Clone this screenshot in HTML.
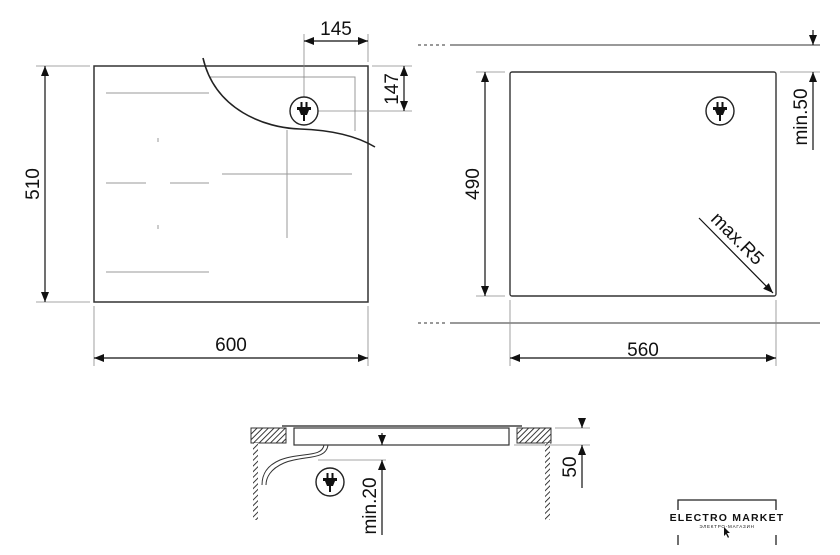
<!DOCTYPE html>
<html><head><meta charset="utf-8"><style>
html,body{margin:0;padding:0;background:#fff;}
svg{display:block;}
text{font-family:"Liberation Sans",sans-serif;fill:#111;}
</style></head><body>
<svg width="840" height="555" viewBox="0 0 840 555" xmlns="http://www.w3.org/2000/svg">
<defs>
<marker id="a" viewBox="0 0 10 10" refX="10" refY="5" markerWidth="10" markerHeight="10" orient="auto-start-reverse" markerUnits="userSpaceOnUse">
<path d="M0,1 L10,5 L0,9 Z" fill="#111"/></marker>
<pattern id="h" width="4" height="4" patternUnits="userSpaceOnUse" patternTransform="rotate(45)">
<rect width="4" height="4" fill="#fff"/><line x1="0" y1="0" x2="0" y2="4" stroke="#222" stroke-width="1.8"/></pattern>
<g id="plug">
<circle cx="0" cy="0" r="14" fill="#fff" stroke="#222" stroke-width="1.4"/>
<rect x="-3.5" y="-9" width="2" height="5" fill="#111"/><rect x="1.5" y="-9" width="2" height="5" fill="#111"/>
<path d="M-7,-4 H7 V-1 H5 L3,4 H-3 L-5,-1 H-7 Z" fill="#111"/>
<rect x="-1" y="4" width="2" height="6" fill="#111"/>
</g>
</defs>

<!-- LEFT TOP VIEW -->
<rect x="94" y="66" width="274" height="236" fill="none" stroke="#333" stroke-width="1.5"/>
<g stroke="#999" stroke-width="1" fill="none">
<polyline points="210,77 355,77 355,131"/>
<line x1="106" y1="93" x2="209" y2="93"/>
<line x1="106" y1="183" x2="146" y2="183"/><line x1="170" y1="183" x2="209" y2="183"/>
<line x1="106" y1="272" x2="209" y2="272"/>
<line x1="222" y1="174" x2="352" y2="174"/>
<line x1="287" y1="130" x2="287" y2="238"/>
<line x1="158" y1="138" x2="158" y2="142"/><line x1="158" y1="225" x2="158" y2="229"/>
</g>
<path d="M203,58 C215,110 265,128 300,129 C330,130 355,135 375,147" fill="none" stroke="#222" stroke-width="1.6"/>
<g stroke="#888" stroke-width="0.8">
<line x1="304" y1="34" x2="304" y2="97"/><line x1="368" y1="34" x2="368" y2="62"/>
<line x1="372" y1="66" x2="412" y2="66"/><line x1="318" y1="111" x2="412" y2="111"/>
<line x1="36" y1="66" x2="90" y2="66"/><line x1="36" y1="302" x2="90" y2="302"/>
<line x1="94" y1="306" x2="94" y2="366"/><line x1="368" y1="306" x2="368" y2="366"/>
</g>
<use href="#plug" x="304" y="111"/>
<g stroke="#111" stroke-width="1.2" fill="none">
<line x1="304" y1="41" x2="368" y2="41" marker-start="url(#a)" marker-end="url(#a)"/>
<line x1="404" y1="66" x2="404" y2="111" marker-start="url(#a)" marker-end="url(#a)"/>
<line x1="45" y1="66" x2="45" y2="302" marker-start="url(#a)" marker-end="url(#a)"/>
<line x1="94" y1="358" x2="368" y2="358" marker-start="url(#a)" marker-end="url(#a)"/>
</g>
<text x="336" y="35" font-size="19" text-anchor="middle">145</text>
<text transform="translate(398,89) rotate(-90)" font-size="19" text-anchor="middle">147</text>
<text transform="translate(39,184) rotate(-90)" font-size="19" text-anchor="middle">510</text>
<text x="231" y="351" font-size="19" text-anchor="middle">600</text>

<!-- RIGHT CUTOUT -->
<rect x="510" y="72" width="266" height="224" rx="2" fill="none" stroke="#333" stroke-width="1.4"/>
<g stroke="#333" stroke-width="1.1">
<line x1="418" y1="45" x2="448" y2="45" stroke-dasharray="3,3"/>
<line x1="450" y1="45" x2="820" y2="45"/>
<line x1="418" y1="323" x2="448" y2="323" stroke-dasharray="3,3"/>
<line x1="450" y1="323" x2="820" y2="323"/>
</g>
<g stroke="#888" stroke-width="0.8">
<line x1="476" y1="72" x2="505" y2="72"/><line x1="476" y1="296" x2="505" y2="296"/>
<line x1="780" y1="72" x2="820" y2="72"/>
<line x1="510" y1="300" x2="510" y2="366"/><line x1="776" y1="300" x2="776" y2="366"/>
</g>
<use href="#plug" x="720" y="111"/>
<g stroke="#111" stroke-width="1.2" fill="none">
<line x1="485" y1="72" x2="485" y2="296" marker-start="url(#a)" marker-end="url(#a)"/>
<line x1="510" y1="358" x2="776" y2="358" marker-start="url(#a)" marker-end="url(#a)"/>
<line x1="813" y1="30" x2="813" y2="45" marker-end="url(#a)"/>
<line x1="813" y1="150" x2="813" y2="72" marker-end="url(#a)"/>
<line x1="699" y1="218" x2="773" y2="293" marker-end="url(#a)"/>
</g>
<text transform="translate(479,184) rotate(-90)" font-size="19" text-anchor="middle">490</text>
<text x="643" y="356" font-size="19" text-anchor="middle">560</text>
<text transform="translate(807,117) rotate(-90)" font-size="19" text-anchor="middle">min.50</text>
<text transform="translate(733,243) rotate(45)" font-size="19" text-anchor="middle">max.R5</text>

<!-- BOTTOM SECTION -->
<rect x="251" y="428" width="35" height="15" fill="url(#h)" stroke="#333" stroke-width="1"/>
<rect x="517" y="428" width="34" height="15" fill="url(#h)" stroke="#333" stroke-width="1"/>
<rect x="253" y="443" width="5" height="77" fill="url(#h)"/>
<rect x="545" y="443" width="5" height="77" fill="url(#h)"/>
<line x1="282" y1="426" x2="522" y2="426" stroke="#444" stroke-width="1.4"/>
<rect x="294" y="428" width="215" height="17" fill="#fff" stroke="#333" stroke-width="1.2"/>
<path d="M324,445 C322,458 300,452 280,460 C266,466 262,475 262,485" fill="none" stroke="#333" stroke-width="1"/>
<path d="M328,445 C326,461 303,455 284,463 C270,469 266,478 266,485" fill="none" stroke="#333" stroke-width="1"/>
<g stroke="#888" stroke-width="0.8">
<line x1="318" y1="460" x2="386" y2="460"/>
<line x1="555" y1="428" x2="590" y2="428"/><line x1="514" y1="445" x2="590" y2="445"/>
</g>
<use href="#plug" x="330" y="482"/>
<g stroke="#111" stroke-width="1.2" fill="none">
<line x1="382" y1="433" x2="382" y2="445" marker-end="url(#a)"/>
<line x1="382" y1="535" x2="382" y2="460" marker-end="url(#a)"/>
<line x1="582" y1="418" x2="582" y2="428" marker-end="url(#a)"/>
<line x1="582" y1="488" x2="582" y2="445" marker-end="url(#a)"/>
</g>
<text transform="translate(376,506) rotate(-90)" font-size="19" text-anchor="middle">min.20</text>
<text transform="translate(576,467) rotate(-90)" font-size="19" text-anchor="middle">50</text>

<!-- LOGO -->
<g stroke="#222" stroke-width="1.3" fill="none">
<polyline points="678,510 678,500 776,500 776,510"/>
<line x1="678" y1="535" x2="678" y2="545"/><line x1="776" y1="535" x2="776" y2="545"/>
</g>
<text x="727" y="521" font-size="10.5" font-weight="bold" text-anchor="middle" letter-spacing="1.2">ELECTRO MARKET</text>
<text x="727" y="528" font-size="4.5" text-anchor="middle" letter-spacing="0.8" fill="#444">ЭЛЕКТРО-МАГАЗИН</text>
<path d="M724,527 L724,536 L726,534 L728,538 L729,537 L727,533 L730,533 Z" fill="#111"/>
</svg>
</body></html>
